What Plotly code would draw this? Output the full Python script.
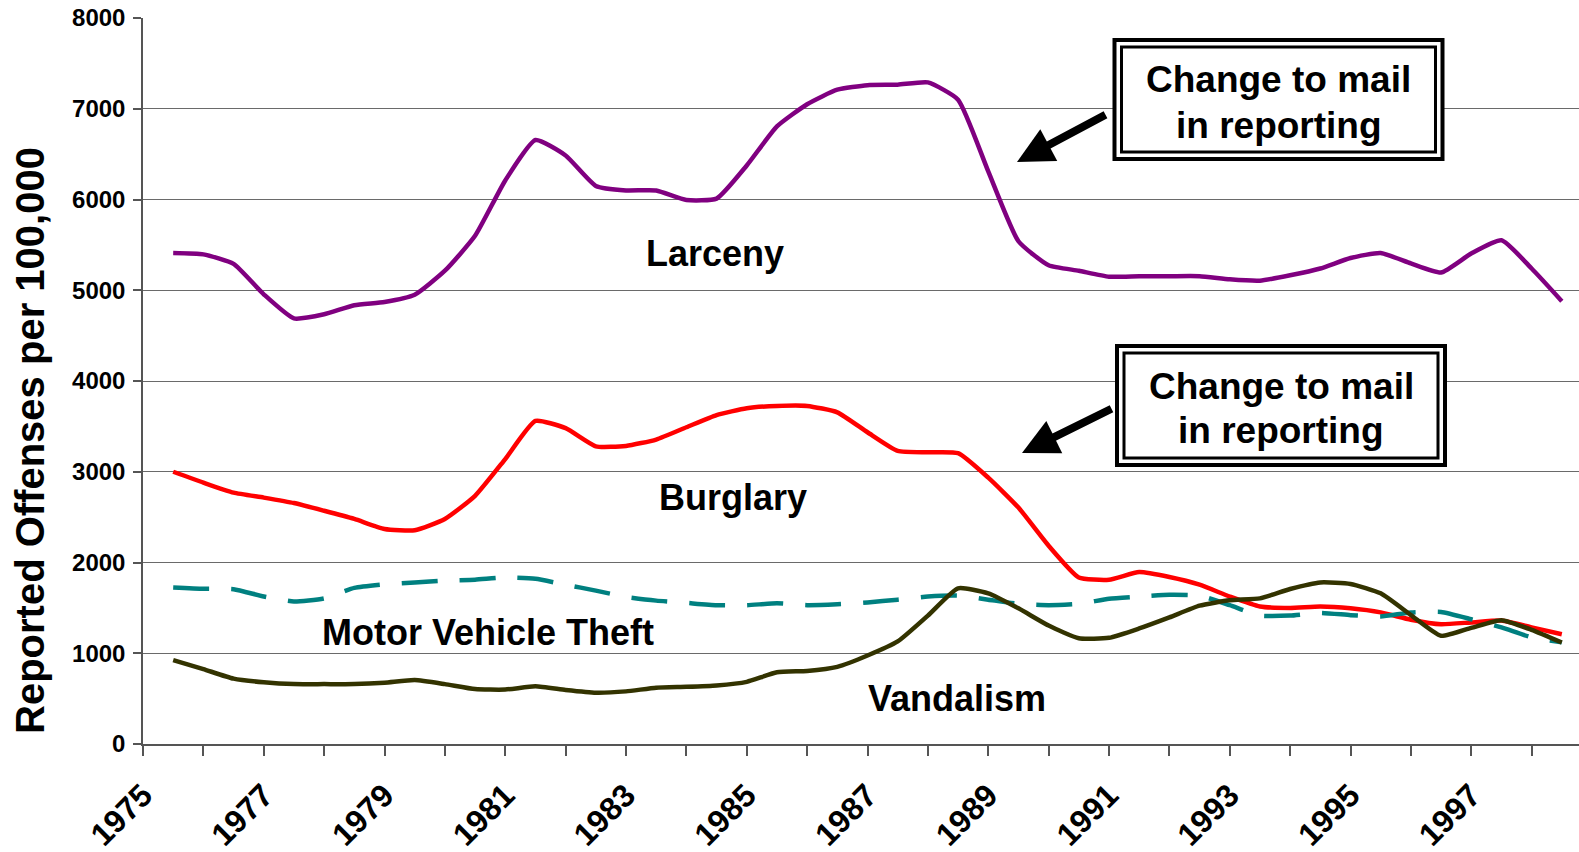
import plotly.graph_objects as go

# ---------------- data ----------------
years = [1975.5, 1976.0, 1976.5, 1977.0, 1977.5, 1978.0, 1978.5, 1979.0, 1979.5, 1980.0,
         1980.5, 1981.0, 1981.5, 1982.0, 1982.5, 1983.0, 1983.5, 1984.0, 1984.5, 1985.0,
         1985.5, 1986.0, 1986.5, 1987.0, 1987.5, 1988.0, 1988.5, 1989.0, 1989.5, 1990.0,
         1990.5, 1991.0, 1991.5, 1992.0, 1992.5, 1993.0, 1993.5, 1994.0, 1994.5, 1995.0,
         1995.5, 1996.0, 1996.5, 1997.0, 1997.5, 1998.0, 1998.5]

larceny = [5410, 5395, 5290, 4955, 4690, 4735, 4835, 4870, 4950, 5215,
           5600, 6210, 6655, 6485, 6150, 6100, 6100, 5995, 6010, 6375,
           6805, 7050, 7210, 7260, 7265, 7290, 7100, 6310, 5540, 5275,
           5215, 5150, 5155, 5155, 5155, 5120, 5105, 5165, 5240, 5355,
           5410, 5295, 5195, 5405, 5550, 5240, 4880]

burglary = [3000, 2880, 2770, 2715, 2655, 2570, 2480, 2370, 2355, 2480,
            2735, 3140, 3560, 3480, 3280, 3285, 3355, 3490, 3625, 3700,
            3725, 3725, 3655, 3435, 3230, 3215, 3205, 2935, 2605, 2185,
            1835, 1810, 1895, 1840, 1755, 1625, 1515, 1500, 1515, 1495,
            1450, 1370, 1320, 1340, 1360, 1285, 1210]

motor_vehicle_theft = [1725, 1710, 1705, 1625, 1570, 1605, 1720, 1760, 1780, 1800,
                       1810, 1835, 1820, 1755, 1690, 1620, 1580, 1555, 1530, 1530,
                       1550, 1530, 1540, 1560, 1590, 1625, 1635, 1590, 1545, 1530,
                       1545, 1600, 1625, 1645, 1635, 1530, 1415, 1415, 1445, 1420,
                       1405, 1450, 1455, 1375, 1285, 1175, 1120]

vandalism = [925, 825, 720, 680, 660, 660, 660, 675, 705, 660,
             605, 600, 635, 595, 565, 580, 620, 630, 645, 685,
             790, 805, 850, 975, 1130, 1415, 1715, 1660, 1495, 1305,
             1165, 1170, 1273, 1395, 1524, 1583, 1605, 1708, 1780, 1764,
             1660, 1421, 1192, 1280, 1365, 1258, 1118]

series_names = ["Larceny", "Burglary", "Motor Vehicle Theft", "Vandalism"]
y_ticks = [0, 1000, 2000, 3000, 4000, 5000, 6000, 7000, 8000]
x_ticks = [1975, 1977, 1979, 1981, 1983, 1985, 1987, 1989, 1991, 1993, 1995, 1997]
note_lines = ["Change to mail", "in reporting"]
y_title = "Reported Offenses per 100,000"

# ---------------- layout helpers ----------------
W, H = 1579, 852
ML, MR, MT, MB = 143, 0, 18, 108
PX_PER_YEAR = 60.375
x_max = 1975 + (W - ML - MR) / PX_PER_YEAR
FONT = "Liberation Sans, Arial, Helvetica, sans-serif"


def pxx(xp):
    return (xp - ML) / (W - ML - MR)


def pxy(yp):
    return (H - MB - yp) / (H - MT - MB)


fig = go.Figure()

line_styles = [
    (larceny, "#800080", "solid"),
    (burglary, "#FF0000", "solid"),
    (motor_vehicle_theft, "#008080", "36px,22px"),
    (vandalism, "#333300", "solid"),
]
for name, (vals, color, dash) in zip(series_names, line_styles):
    fig.add_trace(go.Scatter(
        x=years, y=vals, mode="lines", name=name,
        line=dict(color=color, width=4.5, dash=dash, shape="spline", smoothing=0.5),
        hoverinfo="x+y+name",
    ))

annotations = []
# series labels
label_pos = [(715, 253), (733, 497), (488, 632), (957, 698)]
for name, (lx, ly) in zip(series_names, label_pos):
    annotations.append(dict(
        x=pxx(lx), y=pxy(ly), xref="paper", yref="paper", text=name,
        showarrow=False, xanchor="center", yanchor="middle",
        font=dict(family=FONT, size=36, color="black", weight="bold"),
    ))

# y-axis title
annotations.append(dict(
    x=pxx(30), y=pxy(441), xref="paper", yref="paper", text=y_title,
    textangle=-90, showarrow=False, xanchor="center", yanchor="middle",
    font=dict(family=FONT, size=40, color="black", weight="bold"),
))

shapes = []
# two "Change to mail in reporting" boxes (outer-left, outer-top offsets in px)
boxes = [(1114.5, 40), (1117, 346)]
BW, BH = 328, 119
for bx, by in boxes:
    shapes.append(dict(type="rect", xref="paper", yref="paper",
                       x0=pxx(bx), x1=pxx(bx + BW), y0=pxy(by), y1=pxy(by + BH),
                       line=dict(color="black", width=4), fillcolor="white", layer="above"))
    shapes.append(dict(type="rect", xref="paper", yref="paper",
                       x0=pxx(bx + 7), x1=pxx(bx + BW - 7), y0=pxy(by + 7), y1=pxy(by + BH - 7),
                       line=dict(color="black", width=3), fillcolor="rgba(0,0,0,0)", layer="above"))
    cx = bx + BW / 2
    for i, txt in enumerate(note_lines):
        annotations.append(dict(
            x=pxx(cx), y=pxy(by + 40 + i * 45), xref="paper", yref="paper", text=txt,
            showarrow=False, xanchor="center", yanchor="middle",
            font=dict(family=FONT, size=37, color="black", weight="bold"),
        ))

# arrows (tip position, tail offset in px)
arrows = [((1017, 162), (90, -48)), ((1022, 453), (91, -45))]
for (tx, ty), (ax, ay) in arrows:
    annotations.append(dict(
        x=pxx(tx), y=pxy(ty), xref="paper", yref="paper", text="",
        showarrow=True, ax=ax, ay=ay, arrowhead=2, arrowsize=0.9,
        arrowwidth=8, arrowcolor="black", standoff=0,
    ))

fig.update_layout(
    width=W, height=H,
    margin=dict(l=ML, r=MR, t=MT, b=MB, pad=0),
    paper_bgcolor="white", plot_bgcolor="white",
    showlegend=False,
    font=dict(family=FONT, color="black"),
    annotations=annotations,
    shapes=shapes,
    xaxis=dict(
        range=[1975, x_max], tickmode="array", tickvals=x_ticks,
        ticktext=[str(t) for t in x_ticks],
        ticks="outside", ticklen=10, tickwidth=1.5, tickcolor="#555555",
        minor=dict(tickmode="linear", tick0=1975, dtick=1, ticks="outside",
                   ticklen=10, tickwidth=1.5, tickcolor="#555555", showgrid=False),
        tickangle=-45, tickfont=dict(family=FONT, size=32, color="black", weight="bold"),
        ticklabelstandoff=8,
        showline=True, linecolor="#555555", linewidth=1.5,
        showgrid=False, zeroline=False,
    ),
    yaxis=dict(
        range=[0, 8000], tickmode="array", tickvals=y_ticks,
        ticktext=[str(t) for t in y_ticks],
        ticks="outside", ticklen=8, tickwidth=1.5, tickcolor="#555555",
        tickfont=dict(family=FONT, size=24, color="black", weight="bold"),
        ticklabelstandoff=3,
        showline=True, linecolor="#555555", linewidth=1.5,
        showgrid=True, gridcolor="#6a6a6a", gridwidth=1.2,
        zeroline=False,
    ),
)

fig.write_html(
    "out.html",
    config={"displayModeBar": False},
    post_script="document.body.style.margin='0px';document.body.style.padding='0px';"
                "document.documentElement.style.overflow='hidden';",
)
